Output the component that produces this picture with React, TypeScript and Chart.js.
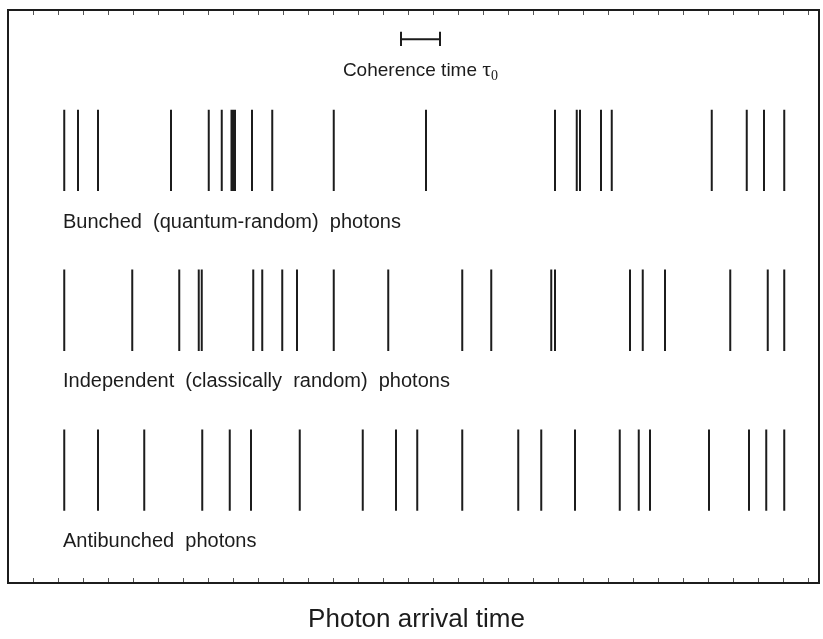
import React, { useEffect, useRef } from "react";
import { Chart, registerables } from "chart.js";

Chart.register(...registerables);

// Photon arrival times (in tick units along the time axis)
const bunchedTimes = [2.25, 2.8, 3.6, 6.52, 8.03, 8.55, 8.94, 9.02, 9.08, 9.76, 10.57, 13.03, 16.72, 21.88, 22.75, 22.88, 23.72, 24.15, 28.15, 29.55, 30.24, 31.05];
const independentTimes = [2.25, 4.97, 6.85, 7.63, 7.75, 9.81, 10.17, 10.97, 11.56, 13.03, 15.21, 18.17, 19.33, 21.73, 21.88, 24.88, 25.39, 26.28, 28.89, 30.39, 31.05];
const antibunchedTimes = [2.25, 3.6, 5.45, 7.77, 8.87, 9.72, 11.67, 14.19, 15.52, 16.37, 18.17, 20.41, 21.33, 22.68, 24.47, 25.23, 25.68, 28.04, 29.64, 30.33, 31.05];

// vertical extent of each row [bottom, top] on a 0..100 axis
const bunchedRow = [68.4, 82.6];
const independentRow = [40.5, 54.7];
const antibunchedRow = [12.6, 26.8];

const rowLabels = ["Bunched  (quantum-random)  photons", "Independent  (classically  random)  photons", "Antibunched  photons"];
const rowLabelY = [63.0, 35.1, 7.2];
const rowLabelX = 2.2;

// coherence-time scale bar
const coherenceStart = 15.72;
const coherenceEnd = 17.28;
const coherenceY = 94.9;
const coherenceCap = [93.7, 96.2];
const coherenceLabelY = 89.4;

const xMin = 0;
const xMax = 32.44;
const tickValues = Array.from({ length: 32 }, (_, i) => i + 1);
const axisTitle = "Photon arrival time";

function rowSegments(times: number[], row: number[]) {
  const pts: { x: number; y: number | null }[] = [];
  times.forEach((t) => {
    pts.push({ x: t, y: row[0] });
    pts.push({ x: t, y: row[1] });
    pts.push({ x: t, y: null });
  });
  return pts;
}

const INK = "#1c1c1c";

export default function App() {
  const ref = useRef<HTMLCanvasElement | null>(null);
  useEffect(() => {
    if (!ref.current) return;
    const barPts = [
      { x: coherenceStart, y: coherenceY },
      { x: coherenceEnd, y: coherenceY },
      { x: coherenceEnd, y: null },
      { x: coherenceStart, y: coherenceCap[0] },
      { x: coherenceStart, y: coherenceCap[1] },
      { x: coherenceStart, y: null },
      { x: coherenceEnd, y: coherenceCap[0] },
      { x: coherenceEnd, y: coherenceCap[1] },
    ];
    const ds = (data: any[]) => ({
      data,
      borderColor: INK,
      borderWidth: 2,
      pointRadius: 0,
      pointHoverRadius: 0,
      borderCapStyle: "butt" as const,
      spanGaps: false,
      tension: 0,
      fill: false,
    });
    const framePlugin = {
      id: "frame",
      afterDraw(chart: any) {
        const { ctx, chartArea } = chart;
        const xs = chart.scales.x;
        const ys = chart.scales.y;
        ctx.save();
        // ticks
        ctx.strokeStyle = "#555";
        ctx.lineWidth = 1;
        tickValues.forEach((v) => {
          const px = Math.round(xs.getPixelForValue(v)) + 0.5;
          ctx.beginPath();
          ctx.moveTo(px, chartArea.bottom);
          ctx.lineTo(px, chartArea.bottom - 5);
          ctx.moveTo(px, chartArea.top);
          ctx.lineTo(px, chartArea.top + 5);
          ctx.stroke();
        });
        // frame
        ctx.strokeStyle = INK;
        ctx.lineWidth = 2;
        ctx.strokeRect(chartArea.left, chartArea.top, chartArea.right - chartArea.left, chartArea.bottom - chartArea.top);
        // row labels
        ctx.fillStyle = INK;
        ctx.textBaseline = "middle";
        ctx.textAlign = "left";
        ctx.font = "20px 'Liberation Sans', Arial, sans-serif";
        rowLabels.forEach((l, i) => {
          ctx.fillText(l, xs.getPixelForValue(rowLabelX), ys.getPixelForValue(rowLabelY[i]));
        });
        // coherence label
        const main = "Coherence time ";
        ctx.font = "19px 'Liberation Sans', Arial, sans-serif";
        const w1 = ctx.measureText(main).width;
        ctx.font = "22px 'Liberation Serif', serif";
        const w2 = ctx.measureText("τ").width;
        ctx.font = "14px 'Liberation Serif', serif";
        const w3 = ctx.measureText("0").width;
        const total = w1 + w2 + w3;
        const cx = (xs.getPixelForValue(coherenceStart) + xs.getPixelForValue(coherenceEnd)) / 2;
        const cy = ys.getPixelForValue(coherenceLabelY);
        let x0 = cx - total / 2;
        ctx.font = "19px 'Liberation Sans', Arial, sans-serif";
        ctx.fillText(main, x0, cy);
        x0 += w1;
        ctx.font = "22px 'Liberation Serif', serif";
        ctx.fillText("τ", x0, cy - 1);
        x0 += w2;
        ctx.font = "14px 'Liberation Serif', serif";
        ctx.fillText("0", x0, cy + 6);
        // axis title
        ctx.textAlign = "center";
        ctx.font = "26px 'Liberation Sans', Arial, sans-serif";
        ctx.fillText(axisTitle, (chartArea.left + chartArea.right) / 2 + 3, chartArea.bottom + 37);
        ctx.restore();
      },
    };
    const chart = new Chart(ref.current, {
      type: "line",
      data: {
        datasets: [
          ds(rowSegments(bunchedTimes, bunchedRow)),
          ds(rowSegments(independentTimes, independentRow)),
          ds(rowSegments(antibunchedTimes, antibunchedRow)),
          ds(barPts),
        ],
      },
      options: {
        animation: false,
        responsive: true,
        maintainAspectRatio: false,
        layout: { padding: { left: 8, top: 10, right: 4, bottom: 56 } },
        plugins: { legend: { display: false }, tooltip: { enabled: false }, title: { display: false } },
        scales: {
          x: { type: "linear", min: xMin, max: xMax, display: false },
          y: { type: "linear", min: 0, max: 100, display: false },
        },
        events: [],
      },
      plugins: [framePlugin],
    });
    return () => chart.destroy();
  }, []);
  return (
    <div style={{ position: "absolute", left: 0, top: 0, width: 823, height: 639, background: "#fff" }}>
      <canvas ref={ref} />
    </div>
  );
}
